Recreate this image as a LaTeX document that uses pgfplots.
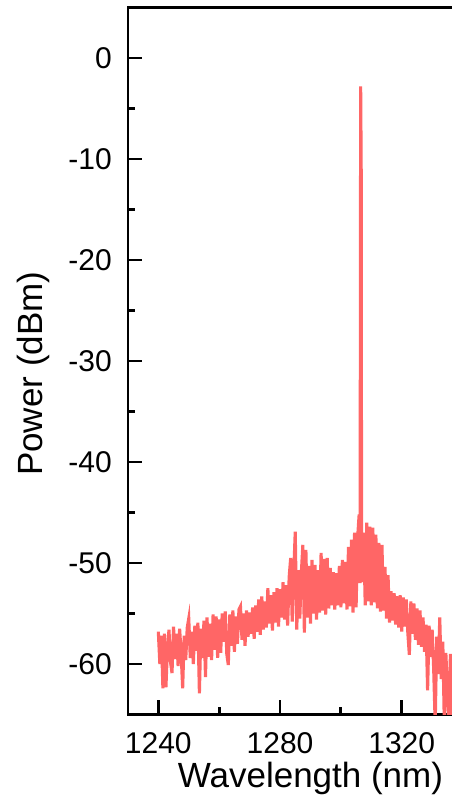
\documentclass[border=0pt]{standalone}
\usepackage{fontspec}
\setmainfont{Liberation Sans}
\usepackage{pgfplots}
\pgfplotsset{compat=1.18}
\definecolor{spec}{RGB}{255,102,102}

\begin{document}
\begin{tikzpicture}
\begin{axis}[
  name=ax,
  scale only axis,
  width=182.55pt, height=353.5pt,
  xmin=1230, xmax=1350,
  ymin=-65, ymax=5,
  axis line style={line width=1.4pt, black},
  tick align=inside,
  xtick pos=bottom, ytick pos=left,
  xtick={1240,1280,1320},
  minor xtick={1260,1300,1340},
  ytick={-60,-50,-40,-30,-20,-10,0},
  yticklabels={-60,-50,-40,-30,-20,-10,0},
  xticklabels={1240,1280,1320},
  minor ytick={-55,-45,-35,-25,-15,-5},
  major tick length=7pt,
  minor tick length=3.5pt,
  tick style={line width=1.4pt, black},
  xticklabel style={font=\fontsize{15}{18}\selectfont, anchor=north, inner sep=0pt, yshift=-8.8pt},
  yticklabel style={font=\fontsize{15}{18}\selectfont, anchor=east, inner sep=0pt, xshift=-7.9pt},
  every axis x label/.style={at={(axis description cs:0.5,0)}, anchor=base, yshift=-36.65pt,
    font=\fontsize{17.5}{21}\selectfont},
  every axis y label/.style={at={(axis description cs:0,0.482)}, xshift=-42.75pt, rotate=90, anchor=base,
    font=\fontsize{17.5}{21}\selectfont},
  xlabel={Wavelength (nm)},
  ylabel={Power (dBm)},
]
% optical spectrum: broad emission with single lasing line near 1306.5 nm
\addplot[color=spec, line width=1.55pt, mark=none] coordinates {
(1240.0,-56.8) (1240.5,-60.0) (1241.0,-57.2) (1241.5,-62.4) (1242.0,-57.0) (1242.5,-62.3) (1243.0,-58.5) (1243.5,-56.6)
(1244.0,-59.8) (1244.5,-60.9) (1245.0,-56.3) (1245.5,-59.5) (1246.0,-57.0) (1246.5,-60.2) (1247.0,-56.5) (1247.5,-59.0)
(1248.0,-62.4) (1248.5,-57.2) (1249.0,-59.6) (1249.5,-56.4) (1250.0,-55.5) (1250.5,-59.4) (1251.0,-56.8) (1251.5,-60.0)
(1252.0,-56.2) (1252.5,-58.7) (1253.0,-55.9) (1253.5,-62.9) (1254.0,-56.5) (1254.5,-59.4) (1255.0,-55.7) (1255.5,-61.3)
(1256.0,-55.4) (1256.5,-59.3) (1257.0,-56.0) (1257.5,-59.6) (1258.0,-55.1) (1258.5,-58.6) (1259.0,-55.3) (1259.5,-59.4)
(1260.0,-55.6) (1260.5,-58.9) (1261.0,-55.0) (1261.5,-57.8) (1262.0,-54.8) (1262.5,-59.0) (1263.0,-60.1) (1263.5,-55.1)
(1264.0,-58.2) (1264.5,-54.7) (1265.0,-58.8) (1265.5,-55.3) (1266.0,-58.0) (1266.5,-54.6) (1267.0,-54.3) (1267.5,-57.6)
(1268.0,-55.0) (1268.5,-58.2) (1269.0,-54.7) (1269.5,-57.3) (1270.0,-54.9) (1270.5,-57.0) (1271.0,-54.4) (1271.5,-57.5)
(1272.0,-54.2) (1272.5,-56.8) (1273.0,-53.6) (1273.5,-57.1) (1274.0,-53.3) (1274.5,-56.6) (1275.0,-53.8) (1275.5,-56.4)
(1276.0,-52.5) (1276.5,-56.0) (1277.0,-53.2) (1277.5,-56.7) (1278.0,-52.9) (1278.5,-55.9) (1279.0,-52.5) (1279.5,-56.3)
(1280.0,-52.6) (1280.5,-55.4) (1281.0,-51.9) (1281.5,-55.6) (1282.0,-52.2) (1282.5,-56.2) (1283.0,-51.4) (1283.5,-49.5)
(1284.0,-55.8) (1284.5,-51.0) (1285.0,-46.9) (1285.5,-56.6) (1286.0,-50.7) (1286.5,-55.5) (1287.0,-51.0) (1287.5,-48.2)
(1288.0,-56.9) (1288.5,-48.7) (1289.0,-55.4) (1289.5,-50.3) (1290.0,-56.0) (1290.5,-49.7) (1291.0,-55.0) (1291.5,-50.2)
(1292.0,-55.6) (1292.5,-50.7) (1293.0,-54.9) (1293.5,-49.0) (1294.0,-54.7) (1294.5,-49.6) (1295.0,-55.1) (1295.5,-49.5)
(1296.0,-54.5) (1296.5,-50.5) (1297.0,-54.2) (1297.5,-50.9) (1298.0,-54.6) (1298.5,-51.0) (1299.0,-54.2) (1299.5,-50.3)
(1300.0,-54.4) (1300.5,-49.7) (1301.0,-54.0) (1301.5,-49.9) (1302.0,-54.6) (1302.5,-48.4) (1303.0,-54.3) (1303.5,-47.7)
(1304.0,-54.9) (1304.5,-47.0) (1305.0,-54.4) (1305.5,-47.5) (1306.0,-45.2) (1306.3,-52.0) (1306.5,-2.8) (1306.7,-12.0)
(1306.8,-51.9) (1307.5,-47.0) (1308.0,-54.2) (1308.5,-46.0) (1309.0,-53.8) (1309.5,-46.4) (1310.0,-54.2) (1310.5,-46.5)
(1311.0,-53.9) (1311.5,-47.2) (1312.0,-54.5) (1312.5,-48.0) (1313.0,-54.8) (1313.5,-48.2) (1314.0,-54.7) (1314.5,-50.4)
(1315.0,-55.5) (1315.5,-51.2) (1316.0,-55.9) (1316.5,-52.8) (1317.0,-55.7) (1317.5,-53.0) (1318.0,-56.1) (1318.5,-53.3)
(1319.0,-56.4) (1319.5,-53.2) (1320.0,-56.8) (1320.5,-53.4) (1321.0,-56.3) (1321.5,-53.6) (1322.0,-56.9) (1322.5,-59.1)
(1323.0,-53.8) (1323.5,-57.0) (1324.0,-54.0) (1324.5,-57.6) (1325.0,-54.5) (1325.5,-58.1) (1326.0,-54.7) (1326.5,-58.3)
(1327.0,-55.4) (1327.5,-58.8) (1328.0,-56.1) (1328.5,-62.6) (1329.0,-56.2) (1329.5,-59.3) (1330.0,-56.6) (1330.5,-60.5)
(1331.0,-66.0) (1331.5,-57.3) (1332.0,-61.0) (1332.5,-55.4) (1333.0,-61.5) (1333.5,-57.8) (1334.0,-66.0) (1334.5,-58.9)
(1335.0,-62.5) (1335.5,-66.0) (1336.0,-59.0) (1336.5,-66.0) (1337.0,-60.2) (1337.5,-66.0) (1338.0,-61.0)
};
\end{axis}
\pgfresetboundingbox
\useasboundingbox ([shift={(-63.95pt,-44.25pt)}]ax.south west) rectangle ([shift={(161.55pt,3.75pt)}]ax.north west);
\end{tikzpicture}
\end{document}
